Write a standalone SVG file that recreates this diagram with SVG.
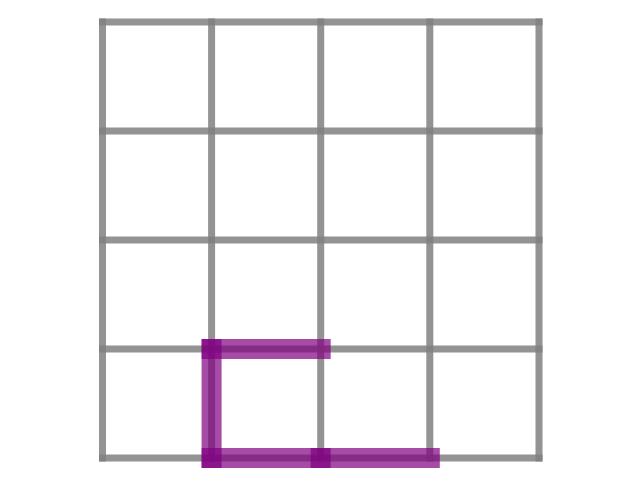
<svg xmlns="http://www.w3.org/2000/svg" width="640" height="480" viewBox="0 0 640 480">
<style>
.g{stroke:#808080;stroke-opacity:0.85;stroke-width:7;stroke-linecap:square;fill:none}
.p{stroke:#800080;stroke-opacity:0.7;stroke-width:20;stroke-linecap:square;fill:none}
</style>
<rect width="640" height="480" fill="#ffffff"/>
<g id="grid">
<line class="g" x1="102.5" y1="22" x2="539" y2="22"/>
<line class="g" x1="102.5" y1="131" x2="539" y2="131"/>
<line class="g" x1="102.5" y1="240" x2="539" y2="240"/>
<line class="g" x1="102.5" y1="349" x2="539" y2="349"/>
<line class="g" x1="102.5" y1="458" x2="539" y2="458"/>
<line class="g" x1="102.5" y1="22" x2="102.5" y2="458"/>
<line class="g" x1="211.6" y1="22" x2="211.6" y2="458"/>
<line class="g" x1="320.7" y1="22" x2="320.7" y2="458"/>
<line class="g" x1="429.8" y1="22" x2="429.8" y2="458"/>
<line class="g" x1="539" y1="22" x2="539" y2="458"/>
</g>
<g id="path">
<line class="p" x1="211.6" y1="349" x2="320.7" y2="349"/>
<line class="p" x1="211.6" y1="349" x2="211.6" y2="458"/>
<line class="p" x1="211.6" y1="458" x2="320.7" y2="458"/>
<line class="p" x1="320.7" y1="458" x2="429.8" y2="458"/>
</g>
</svg>
